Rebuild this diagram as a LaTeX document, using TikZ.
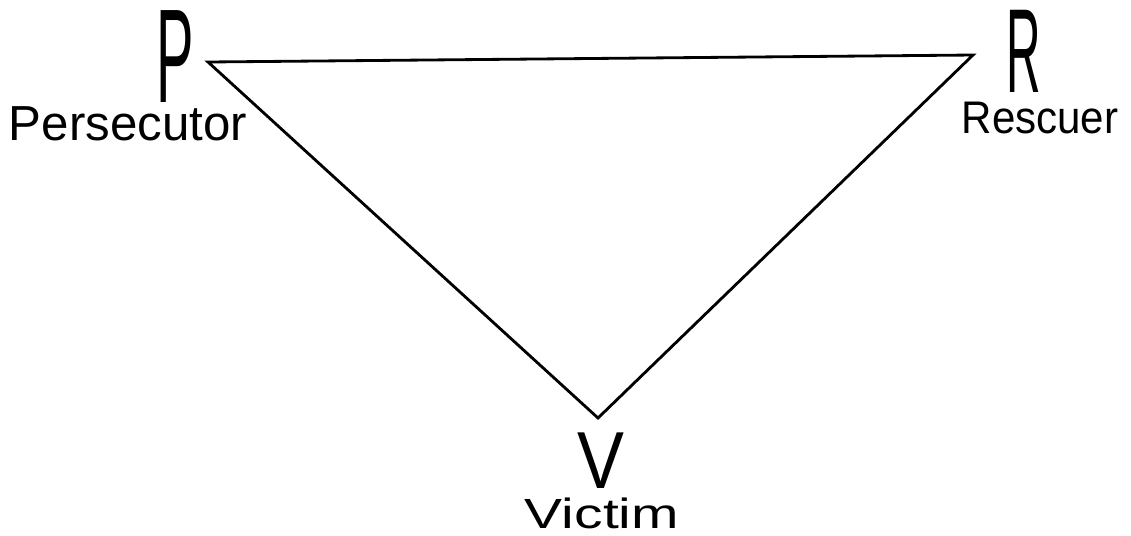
\documentclass[tikz,border=0pt]{standalone}
\usepackage{fontspec}
\setmainfont{Liberation Sans}
\tikzset{
  corner/.style={font=\fontsize{#1}{#1}\selectfont,inner sep=0pt,anchor=base},
  role/.style={font=\fontsize{#1}{#1}\selectfont,inner sep=0pt,anchor=base,text height=0.72*#1pt},
  side/.style={line width=0.8pt,line join=miter}
}
\begin{document}
\begin{tikzpicture}[x=0.01cm,y=0.01cm]
 \useasboundingbox (0,0) rectangle (1131,535);
 % corners of the triangle
 \coordinate (p) at (208,473); \coordinate (r) at (973,480); \coordinate (v) at (598,117);
 \draw[side] (p) -- (r) -- (v) -- cycle;
 % letters and role names
 \node[corner=38,xscale=0.42,transform shape] (pl) at (175,433) {P};
 \node[corner=34,xscale=0.4,transform shape] (rl) at (1024,443) {R};
 \node[corner=23,xscale=0.87,transform shape] (vl) at (601,47) {V};
 \node[role=14] (pn) at (128,395) {Persecutor};
 \node[role=13,xscale=0.92,transform shape] (rn) at (1040,402) {Rescuer};
 \node[role=12,xscale=1.35,transform shape] (vn) at (602,7) {Victim};
\end{tikzpicture}
\end{document}
